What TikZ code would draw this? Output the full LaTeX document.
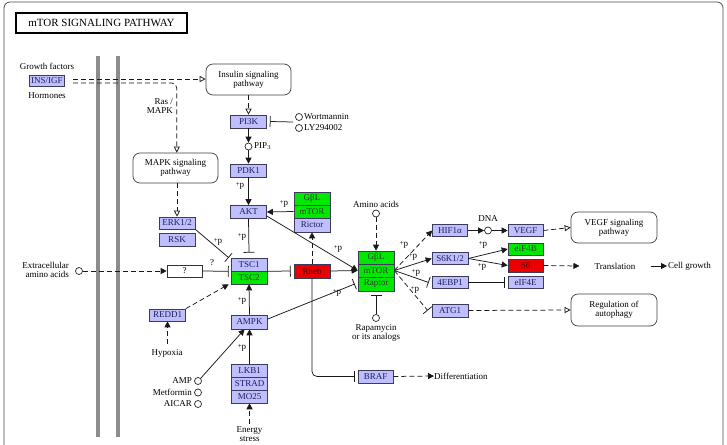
\documentclass[tikz,border=0pt]{standalone}
\usepackage{fontspec}
\setmainfont{Liberation Serif}
\usetikzlibrary{arrows.meta}
\definecolor{lav}{RGB}{191,191,255}
\definecolor{gbox}{RGB}{0,232,0}
\definecolor{rbox}{RGB}{235,0,0}
\definecolor{gtext}{RGB}{30,30,90}
\definecolor{gborder}{RGB}{60,60,90}
\newcommand\plusp{{\fontsize{7}{7}\selectfont\raisebox{1.5pt}{+}}p}
\begin{document}
\begin{tikzpicture}[x=1pt,y=-1pt,
  font=\fontsize{9}{9}\selectfont,
  gene/.style={draw=gborder, fill=lav, text=gtext, minimum width=36pt, minimum height=13pt, inner sep=0pt, line width=0.6pt},
  ggene/.style={gene, fill=gbox, text=black!80},
  rgene/.style={gene, fill=rbox, text=black!70!red},
  pathbox/.style={draw=black!75, rounded corners=7pt, minimum width=86pt, minimum height=31pt, align=center, inner sep=1pt, line width=0.7pt},
  cpd/.style={circle, draw=black!85, line width=0.7pt, minimum size=7pt, inner sep=0pt, fill=white},
  lbl/.style={inner sep=0pt},
  conn/.style={line width=0.75pt, draw=black!90},
  act/.style={conn, -{Triangle[length=6pt,width=6pt]}},
  opn/.style={conn, -{Triangle[open,length=6pt,width=6pt]}},
  inh/.style={conn, -{Bar[width=11pt]}},
  dsh/.style={dash pattern=on 5pt off 3pt},
]
\useasboundingbox (0,0) rectangle (727,444);
\clip (0,0) rectangle (727,444);
\fill[white] (0,0) rectangle (727,444);
% outer frame
\draw[black!70, line width=0.8pt, rounded corners=6pt] (4,2) rectangle (723,480);
% membranes
\draw[line width=3.5pt, black!45] (98,56) -- (98,437);
\draw[line width=3.5pt, black!45] (118,56) -- (118,437);
% title
\node[draw=black, line width=1.6pt, fill=white, minimum width=171pt, minimum height=20pt, inner sep=0pt, font=\fontsize{11}{11}\selectfont] (title) at (101.5,23) {mTOR SIGNALING PATHWAY};

% ---------- nodes ----------
\node[lbl] (gf) at (47,66) {Growth factors};
\node[gene, minimum width=35pt, minimum height=11pt] (ins) at (47,80.5) {INS/IGF};
\node[lbl] (horm) at (47,96) {Hormones};

\node[pathbox, minimum width=85pt] (insp) at (248.5,79.5) {Insulin signaling\\pathway};
\node[gene] (pi3k) at (248.5,121.5) {PI3K};
\node[cpd] (wort) at (299,117) {};
\node[cpd] (ly) at (299,128) {};
\node[lbl, anchor=west] (wortt) at (304,117) {Wortmannin};
\node[lbl, anchor=west] (lyt) at (304,128) {LY294002};
\coordinate (wc) at (293,122);
\node[cpd] (pip) at (248.5,146.5) {};
\node[lbl, anchor=west] (pipt) at (254,146) {PIP$_3$};
\node[gene] (pdk) at (248.5,170.5) {PDK1};
\node[gene] (akt) at (248.5,212) {AKT};

\node[ggene] (gbl2) at (312,198.5) {GβL};
\node[ggene] (mtor2) at (312,211.5) {mTOR};
\node[gene, minimum height=14pt] (rictor) at (312,225) {Rictor};

\node[gene] (tsc1) at (249,264.5) {TSC1};
\node[ggene] (tsc2) at (249,277.5) {TSC2};
\node[rgene, minimum height=14pt] (rheb) at (312,271) {Rheb};

\node[lbl] (aat) at (376,204) {Amino acids};
\node[cpd] (aa) at (376,213.5) {};
\node[ggene] (gbl1) at (376,257.5) {GβL};
\node[ggene] (mtor1) at (376,270.5) {mTOR};
\node[ggene, minimum height=14pt] (raptor) at (376,284) {Raptor};
\node[cpd] (rapa) at (376,318) {};
\node[lbl, align=center] (rapat) at (376,332.5) {Rapamycin\\or its analogs};

\node[gene, minimum width=35pt] (braf) at (375.5,376.5) {BRAF};
\node[lbl, anchor=west] (diff) at (434,376) {Differentiation};

\node[gene, minimum height=14pt] (ampk) at (249.5,322) {AMPK};
\node[gene] (lkb) at (249.5,370.5) {LKB1};
\node[gene] (strad) at (249.5,383.5) {STRAD};
\node[gene] (mo) at (249.5,396.5) {MO25};
\node[lbl, align=center] (energy) at (249.5,434.5) {Energy\\stress};
\coordinate (es) at (249.5,424);

\node[cpd] (amp) at (198,381) {};
\node[cpd] (metf) at (198,392.5) {};
\node[cpd] (aicar) at (198,404) {};
\node[lbl, anchor=east] (ampt) at (192,381) {AMP};
\node[lbl, anchor=east] (metft) at (192,392.5) {Metformin};
\node[lbl, anchor=east] (aicart) at (192,404) {AICAR};

\node[gene, minimum height=12pt] (redd) at (167.5,315) {REDD1};
\node[lbl] (hyp) at (167,353) {Hypoxia};
\coordinate (hy) at (167.5,344);

\node[pathbox, minimum width=85pt, minimum height=30pt] (mapk) at (175.5,168) {MAPK signaling\\pathway};
\node[lbl, anchor=east, align=right] (rast) at (173,106.5) {Ras /\\MAPK};
\node[gene, minimum height=12pt] (erk) at (177,223) {ERK1/2};
\node[gene] (rsk) at (177,239.5) {RSK};

\node[lbl, anchor=east, align=right] (ext) at (69,269.5) {Extracellular\\amino acids};
\node[cpd] (exc) at (79,271) {};
\node[draw=black!80, fill=white, line width=0.6pt, minimum width=35pt, minimum height=12pt, inner sep=0pt] (q) at (184.5,271) {?};
\node[lbl] (qt) at (212,263) {?};

\node[gene, minimum width=35pt, minimum height=12pt] (hif) at (450,230.5) {HIF1α};
\node[cpd] (dna) at (488,230.5) {};
\node[lbl] (dnat) at (488,219) {DNA};
\node[gene, minimum width=35pt, minimum height=12pt] (vegf) at (525.5,230.5) {VEGF};
\node[pathbox] (vegfp) at (614,227.5) {VEGF signaling\\pathway};

\node[gene, minimum height=12pt] (s6k) at (450,258.5) {S6K1/2};
\node[gene, minimum height=12pt] (ebp) at (450,282.5) {4EBP1};
\node[gene, minimum height=13pt] (atg) at (450,310.5) {ATG1};
\node[ggene, minimum width=35pt, minimum height=12pt] (eif4b) at (525.5,249) {eIF4B};
\node[rgene, minimum width=35pt, minimum height=13pt] (s6) at (525.5,265.5) {S6};
\node[gene, minimum width=35pt, minimum height=12pt] (eif4e) at (525.5,282.5) {eIF4E};
\node[lbl] (transl) at (615,266) {Translation};
\node[lbl, anchor=west] (cellg) at (668,266) {Cell growth};
\node[pathbox, minimum height=32pt] (autop) at (614,310) {Regulation of\\autophagy};

% ---------- connectors ----------
\draw[opn, dsh] ([yshift=1.5pt]ins.east) ++(8,0) coordinate (i1) -- (i1 -| insp.west);
\draw[opn, dsh, rounded corners=5pt] ([yshift=-2.5pt]ins.east) ++(8,0) -- ++(104,0) coordinate (i2) -- (mapk.north -| i2) ;
\draw[opn, dsh] (insp.south) -- (pi3k.north);
\draw[inh] (wc) -- ([xshift=3pt]pi3k.east);
\draw[act] (pi3k.south) -- (pip.north);
\draw[act] (pip.south) -- (pdk.north);
\draw[act] (pdk.south) -- (akt.north);
\draw[act] (mtor2.west) -- (akt.east);
\draw[inh] (akt.south) -- ([yshift=5pt]tsc1.north);
\draw[act] ([yshift=-4pt]akt.east) -- (mtor1.west);
\draw[inh] (erk.south east) -- ([xshift=-2pt]tsc1.north west);
\draw[act, dsh] (exc.east) -- (q.west);
\draw[inh] (q.east) -- ([xshift=-2pt]tsc1.south west);
\draw[act, dsh] (redd.north east) -- ([xshift=-2pt]tsc2.south west);
\draw[inh] (tsc1.south east) -- ([xshift=-3pt]rheb.west);
\draw[act] (rheb.east) -- (mtor1.west);
\draw[act, dsh] (rheb.north) -- (rictor.south);
\draw[inh, rounded corners=5pt] (rheb.south) -- (rheb.south |- braf.west) -- ([xshift=-3pt]braf.west);
\draw[act, dsh] (braf.east) -- (diff.west);
\draw[act, dsh] (aa.south) -- (gbl1.north);
\draw[inh] (rapa.north) -- ([yshift=-4pt]raptor.south);
\draw[act] (ampk.north) -- (tsc2.south);
\draw[inh] ([yshift=3pt]ampk.east) -- ([xshift=-3pt]raptor.west);
\draw[act] (lkb.north) -- (ampk.south);
\draw[act, dsh] (es) -- (mo.south);
\draw[act] (amp.north east) -- ([xshift=-5pt]ampk.south);
\draw[act, dsh] (hy) -- (redd.south);
\draw[opn, dsh] (mapk.south -| erk.north) -- (erk.north);

\draw[act, dsh] (mtor1.east) -- (hif.west);
\draw[act] (mtor1.east) -- (s6k.west);
\draw[inh] (mtor1.east) -- ([xshift=-3pt]ebp.west);
\draw[inh, dsh] (mtor1.east) -- ([xshift=-4pt]atg.west);
\draw[act] (hif.east) -- (dna.west);
\draw[act] (dna.east) -- (vegf.west);
\draw[opn, dsh] (vegf.east) -- (vegfp.west);
\draw[act] (s6k.east) -- (eif4b.west);
\draw[act] (s6k.east) -- (s6.west);
\draw[inh] (ebp.east) -- ([xshift=-3pt]eif4e.west);
\draw[act, dsh] (s6.east) -- ([xshift=-15pt]transl.west);
\draw[act] ([xshift=15pt]transl.east) -- ([xshift=-1pt]cellg.west);
\draw[opn, dsh] (atg.east) -- (autop.west);

% ---------- +p labels ----------
\node[lbl] at (240,186) {\plusp};
\node[lbl] at (284,204) {\plusp};
\node[lbl] at (242,237) {\plusp};
\node[lbl] at (218,242) {\plusp};
\node[lbl] at (338,249) {\plusp};
\node[lbl] at (242,301) {\plusp};
\node[lbl] at (337,293) {\plusp};
\node[lbl] at (242,348) {\plusp};
\node[lbl] at (404,245) {\plusp};
\node[lbl] at (413,257) {\plusp};
\node[lbl] at (416,273) {\plusp};
\node[lbl] at (415,290) {\plusp};
\node[lbl] at (483,245) {\plusp};
\node[lbl] at (482,267) {\plusp};
\end{tikzpicture}
\end{document}
